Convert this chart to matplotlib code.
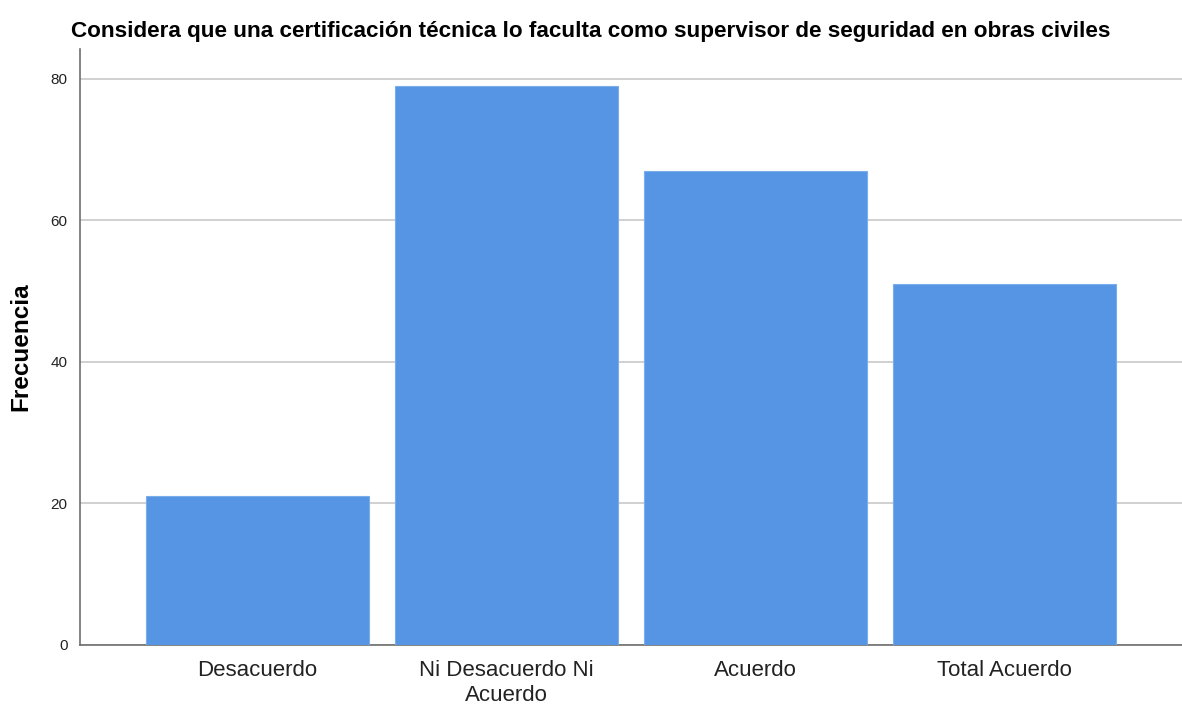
import numpy as np
import matplotlib.pyplot as plt

# Frecuencias por categoría
categorias = ["Desacuerdo", "Ni Desacuerdo Ni\nAcuerdo", "Acuerdo", "Total Acuerdo"]
frecuencias = [21, 79, 67, 51]
ticks_y = [0, 20, 40, 60, 80]

plt.rcParams["font.family"] = ["Liberation Sans", "DejaVu Sans"]

fig = plt.figure(figsize=(11.82, 7.04), dpi=100)
ax = fig.add_axes([80 / 1182, 1 - 645 / 704, 1 - 80 / 1182, (645 - 49) / 704])

x = np.arange(len(categorias))
ax.bar(x, frecuencias, width=0.896, color="#5595e4", edgecolor="#7aaeea",
       linewidth=0.8, zorder=3)

ax.set_xlim(-0.713, len(categorias) - 1 + 0.715)
ax.set_ylim(0, 84.2)
ax.set_yticks(ticks_y)
ax.set_yticklabels([str(t) for t in ticks_y], fontsize=11, color="#222222")
ax.set_xticks(x)
ax.set_xticklabels(categorias, fontsize=16, color="#222222", linespacing=1.22)
ax.tick_params(axis="both", length=0)
ax.tick_params(axis="x", pad=11)
ax.tick_params(axis="y", pad=9)

ax.yaxis.grid(True, color="#c8c8c8", linewidth=1.2, zorder=0)
ax.set_axisbelow(True)

for s in ["top", "right"]:
    ax.spines[s].set_visible(False)
for s in ["left", "bottom"]:
    ax.spines[s].set_color("#6e6e6e")
    ax.spines[s].set_linewidth(1.2)

ax.set_ylabel("Frecuencia", fontsize=17.5, fontweight="bold", labelpad=13)
fig.text(591 / 1182, 1 - 31 / 704,
         "Considera que una certificación técnica lo faculta como supervisor de seguridad en obras civiles",
         ha="center", va="center", fontsize=16.2, fontweight="bold")

fig.savefig("out.png", dpi=100)
